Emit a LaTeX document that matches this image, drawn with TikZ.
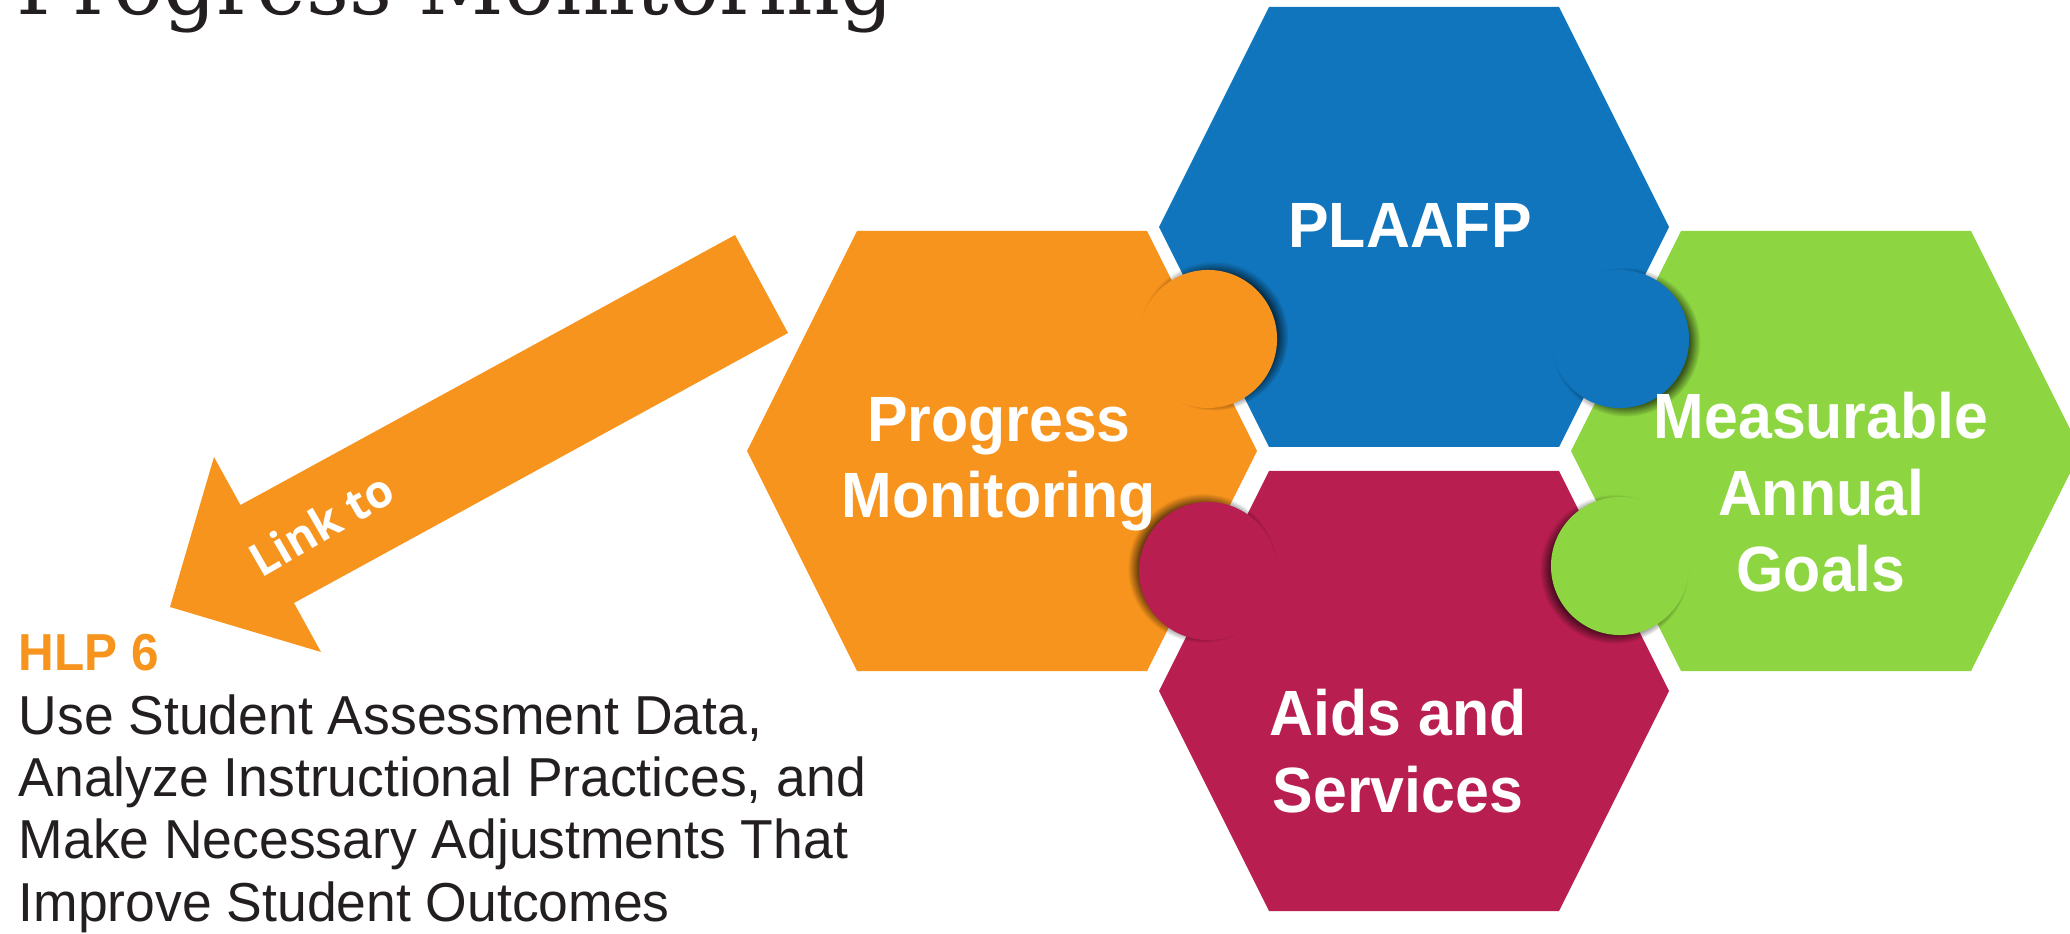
\documentclass[tikz,border=0pt]{standalone}
\usepackage{fontspec}
\usepackage{tikz}
\usetikzlibrary{positioning,calc,shadows,fadings}
\newfontfamily\hexfont[FakeStretch=0.95]{Liberation Sans}
\newfontfamily\bodyfont[FakeStretch=0.975]{Liberation Sans}
\newfontfamily\linkfont{Open Sans}
\newfontfamily\titlefont{DejaVu Serif}
\definecolor{hlporange}{HTML}{F7941D}
\definecolor{hlpblue}{HTML}{1075BC}
\definecolor{hlpred}{HTML}{B81E50}
\definecolor{hlpgreen}{HTML}{8DD541}
\definecolor{inkgray}{HTML}{231F20}
\tikzset{hexlabel/.style={text=white, align=center, inner sep=0pt, font=\hexfont\bfseries\fontsize{18.2}{21.8}\selectfont}}
\tikzset{knob/.style={circle, inner sep=0pt, minimum size=1.38cm, fill=#1}}
\tikzset{knobshade/.style args={#1/#2}{circular drop shadow={shadow scale=1.08, shadow xshift=#1, shadow yshift=#2, opacity=.6, fill=black}}}
\tikzset{hlphead/.style={text=hlporange, inner sep=0pt, font=\hexfont\bfseries\fontsize{14.8}{17.7}\selectfont}}
\tikzset{hlpbody/.style={text=inkgray, align=left, inner sep=0pt, font=\bodyfont\fontsize{15.6}{17.7}\selectfont}}
\tikzset{linklabel/.style={text=white, inner sep=0pt, font=\linkfont\bfseries\fontsize{13}{15}\selectfont}}
\tikzset{titletext/.style={text=inkgray, inner sep=0pt, font=\titlefont\fontsize{23.8}{28}\selectfont}}
% one cell of the honeycomb: name, centre, colour
\newcommand{\hexcell}[3]{%
  \coordinate (#1) at (#2);
  \fill[#3] ($(#1)+(-255,0)$) -- ++(110,-220) -- ++(290,0) -- ++(110,220)
    -- ++(-110,220) -- ++(-290,0) -- cycle;}

\begin{document}
\begin{tikzpicture}[x=0.01cm, y=-0.01cm]
	\useasboundingbox (0,0) rectangle (2070,934);
	\clip (0,0) rectangle (2070,934);
	% title, cut by the top edge
	\node[titletext, anchor=base west] (title) at (16,15) {Progress Monitoring};
	\hexcell{hexO}{1002,451}{hlporange}
	\hexcell{hexB}{1414,227}{hlpblue}
	\hexcell{hexR}{1414,691}{hlpred}
	\hexcell{hexG}{1826,451}{hlpgreen}
	% puzzle knobs
	\node[knob=hlporange, knobshade={1.5pt/0.8pt}] (knobOB) at ($(hexO)!.5!(hexB)$) {};
	\node[knob=hlpblue, knobshade={1.5pt/-0.8pt}] (knobBG) at ($(hexB)!.5!(hexG)$) {};
	\node[knob=hlpred, knobshade={-1.5pt/0.8pt}] (knobRO) at ($(hexR)!.5!(hexO)$) {};
	\node[knob=hlpgreen, knobshade={-1.5pt/-0.8pt}] (knobGR) at ($(hexG)!.5!(hexR)+(0,-5)$) {};
	% labels sit on the baseline of their last line
	\node[hexlabel, anchor=base] (plaafp) at ($(hexB)+(-4,21)$) {PLAAFP};
	\node[hexlabel, anchor=base] (progress) at ($(hexO)+(-3,67)$) {Progress\\Monitoring};
	\node[hexlabel, anchor=base] (goals) at ($(hexG)+(-5,141)$) {Measurable\\Annual\\Goals};
	\node[hexlabel, anchor=base] (aids) at ($(hexR)+(-16,121)$) {Aids and\\Services};
	% the arrow
	\coordinate (arrtail) at (761.5,284);
	\coordinate (arrneck) at (267,554);
	\fill[hlporange] (735,235) -- (788,333) -- (294,603) -- (321,652) -- (170,607)
		-- (214,457) -- (240.5,505) -- cycle;
	\node[linklabel, rotate=30] (link) at ($(arrtail)!.89!(arrneck)$) {Link to};
	\node[hlphead, anchor=base west] (hlp) at (18,670) {HLP 6};
	\node[hlpbody, anchor=base west] (hlpdesc) at ($(hlp.base west)+(0,251)$)
		{Use Student Assessment Data,\\Analyze Instructional Practices, and\\Make Necessary Adjustments That\\Improve Student Outcomes};
\end{tikzpicture}
\end{document}
